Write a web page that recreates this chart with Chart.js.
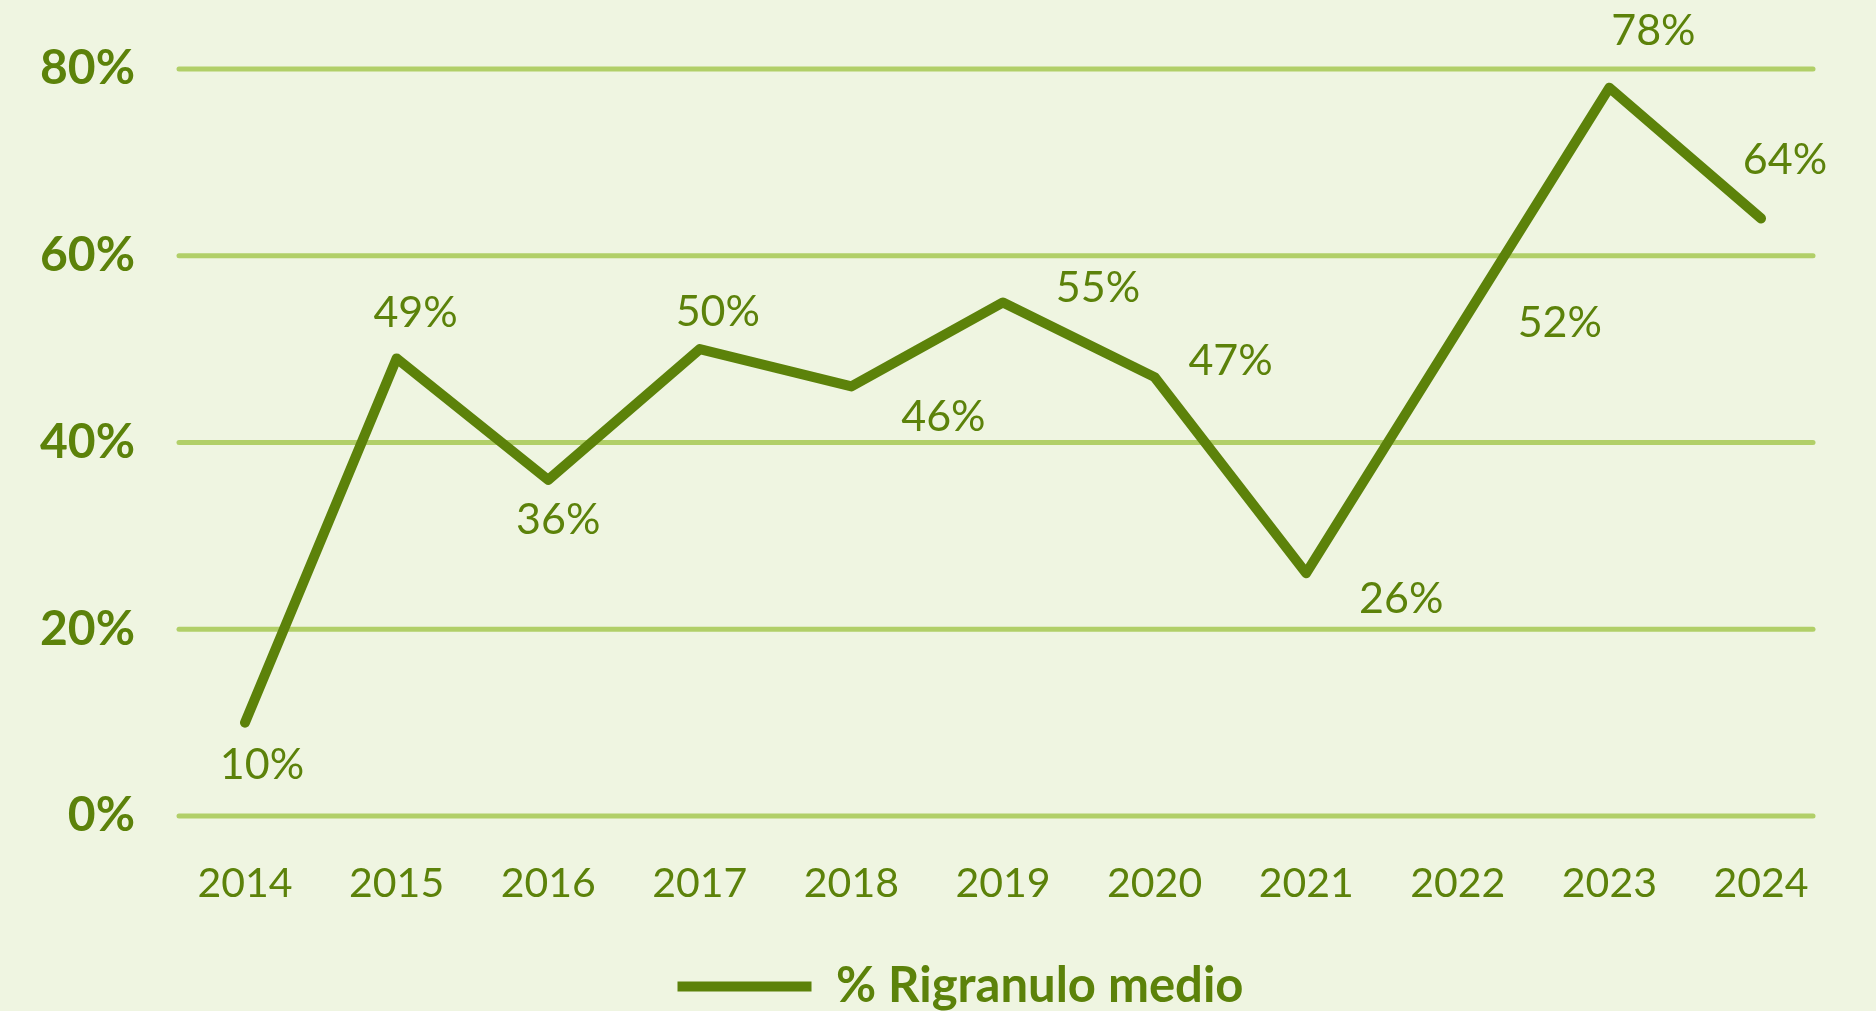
<!DOCTYPE html>
<html>
<head>
<meta charset="utf-8">
<script src="https://cdn.jsdelivr.net/npm/chart.js@4.4.1/dist/chart.umd.min.js"></script>
<style>
  html, body { margin: 0; padding: 0; background: #eff5e1; }
  #chart { display: block; }
</style>
</head>
<body>
<canvas id="chart" width="1876" height="1011"></canvas>
<script>
// data
const years = ['2014', '2015', '2016', '2017', '2018', '2019', '2020', '2021', '2022', '2023', '2024'];
const rigranulo = [10, 49, 36, 50, 46, 55, 47, 26, 52, 78, 64];
const yTicks = [0, 20, 40, 60, 80];
const seriesName = '% Rigranulo medio';

const darkGreen = '#5c820a';
const gridGreen = '#b1cf68';
const FONT = 'Lato, "Open Sans", sans-serif';

// where each value label sits relative to its point (px)
const labelOffsets = [
    [17, 42], [19, -45], [10, 40], [18, -37], [92, 31], [95, -14],
    [76, -16], [95, 26], [102, -7], [44, -57], [24, -58]
];

// background + long rounded grid lines
const gridPlugin = {
    id: 'gridPlugin',
    beforeDraw(chart) {
        const ctx = chart.ctx;
        ctx.save();
        ctx.fillStyle = '#eff5e1';
        ctx.fillRect(0, 0, chart.width, chart.height);
        ctx.restore();
    },
    afterLayout(chart) {
        // legend sits right of the canvas centre and a little lower in the original
        chart.legend.left += 80;
        chart.legend.right += 80;
        chart.legend.top += 10;
        chart.legend.bottom += 10;
    },
    beforeDatasetsDraw(chart) {
        const ctx = chart.ctx;
        const area = chart.chartArea;
        const y = chart.scales.y;
        ctx.save();
        ctx.strokeStyle = gridGreen;
        ctx.lineWidth = 5;
        ctx.lineCap = 'round';
        yTicks.forEach(v => {
            const py = y.getPixelForValue(v);
            ctx.beginPath();
            ctx.moveTo(area.left - 66, py);
            ctx.lineTo(area.right + 52, py);
            ctx.stroke();
        });
        ctx.restore();
    }
};

const valueLabels = {
    id: 'valueLabels',
    afterDatasetsDraw(chart) {
        const ctx = chart.ctx;
        const meta = chart.getDatasetMeta(0);
        ctx.save();
        ctx.fillStyle = darkGreen;
        ctx.font = '43px ' + FONT;
        ctx.textAlign = 'center';
        ctx.textBaseline = 'middle';
        meta.data.forEach((pt, i) => {
            const off = labelOffsets[i];
            ctx.fillText(rigranulo[i] + '%', pt.x + off[0], pt.y + off[1]);
        });
        ctx.restore();
    }
};

const ctx = document.getElementById('chart').getContext('2d');
new Chart(ctx, {
    type: 'line',
    data: {
        labels: years,
        datasets: [{
            label: seriesName,
            data: rigranulo,
            borderColor: darkGreen,
            backgroundColor: darkGreen,
            borderWidth: 10,
            borderCapStyle: 'round',
            borderJoinStyle: 'round',
            pointRadius: 0,
            pointHoverRadius: 0,
            tension: 0,
            fill: false
        }]
    },
    options: {
        responsive: false,
        animation: false,
        layout: {
            padding: { top: 69, right: 115, left: 0, bottom: 0 }
        },
        scales: {
            x: {
                offset: false,
                grid: { display: false },
                border: { display: false },
                afterFit(scale) {
                    scale.height = 133;
                    scale.paddingLeft = 0;
                    scale.paddingRight = 0;
                },
                ticks: {
                    color: darkGreen,
                    font: { family: FONT, size: 41 },
                    padding: 35,
                    maxRotation: 0,
                    autoSkip: false
                }
            },
            y: {
                min: 0,
                max: 80,
                grid: { display: false },
                border: { display: false },
                afterFit(scale) {
                    scale.width = 245;
                    scale.paddingTop = 0;
                    scale.paddingBottom = 0;
                },
                ticks: {
                    stepSize: 20,
                    padding: 102,
                    color: darkGreen,
                    font: { family: FONT, size: 48, weight: 'bold' },
                    callback: v => v + '%'
                }
            }
        },
        plugins: {
            legend: {
                position: 'bottom',
                labels: {
                    color: darkGreen,
                    font: { family: FONT, size: 49, weight: 'bold' },
                    usePointStyle: true,
                    pointStyle: 'line',
                    pointStyleWidth: 134,
                    boxHeight: 12,
                    padding: 3
                }
            },
            tooltip: { enabled: false }
        }
    },
    plugins: [gridPlugin, valueLabels]
});
</script>
</body>
</html>
